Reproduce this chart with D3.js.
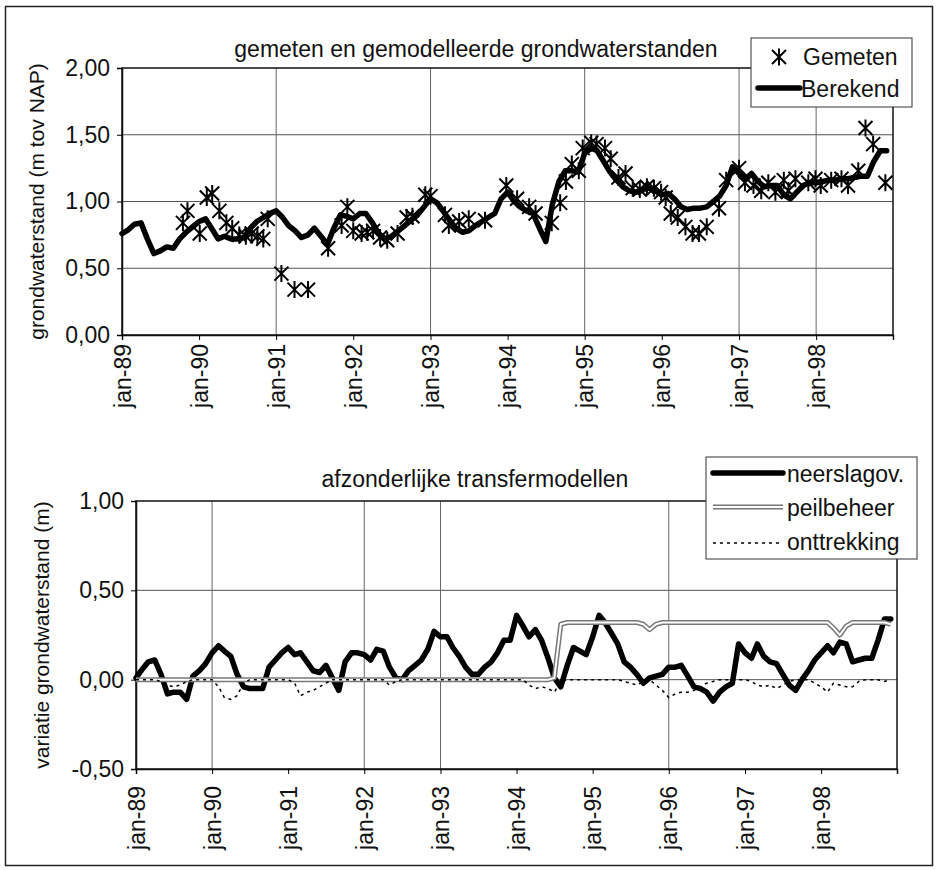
<!DOCTYPE html>
<html>
<head>
<meta charset="utf-8">
<script src="https://cdn.jsdelivr.net/npm/d3@7"></script>
<style>
  body { margin: 0; background: #fff; }
  svg text { font-family: "Liberation Sans", Arial, sans-serif; fill: #111; }
</style>
</head>
<body>
<div class="viz"></div>
<script>
// maandelijkse reeksen, jan-89 t/m dec-98 (index 0..119)
var berekend = [
  0.76,0.79,0.83,0.84,0.72,0.61,0.63,0.66,0.65,0.72,0.77,0.81,
  0.85,0.87,0.80,0.72,0.74,0.72,0.72,0.73,0.80,0.85,0.88,0.91,
  0.93,0.88,0.82,0.78,0.73,0.75,0.80,0.74,0.68,0.80,0.90,0.89,
  0.87,0.91,0.91,0.84,0.76,0.72,0.74,0.78,0.82,0.86,0.90,0.96,
  1.02,0.99,0.93,0.86,0.80,0.77,0.78,0.82,0.85,0.88,0.91,1.02,
  1.07,1.00,0.96,0.93,0.91,0.80,0.70,0.98,1.15,1.23,1.23,1.22,
  1.36,1.40,1.38,1.30,1.22,1.16,1.11,1.08,1.07,1.09,1.10,1.08,
  1.05,1.06,1.02,0.96,0.94,0.95,0.95,0.96,1.00,1.04,1.12,1.26,
  1.21,1.17,1.21,1.15,1.11,1.12,1.12,1.05,1.02,1.07,1.12,1.14,
  1.14,1.15,1.16,1.16,1.17,1.17,1.18,1.19,1.19,1.30,1.38,1.38
];

// metingen: tijdstip in maanden sinds jan-89, waarde in m NAP
var gemetenMaand = [
  9.5,10.2,12.1,13.2,14.1,15.2,16.3,17.2,18.3,19.3,20.2,21.1,22.0,22.7,
  24.8,26.9,29.0,32.1,34.2,35.1,36.0,37.3,38.2,39.1,40.2,41.3,42.9,44.3,45.2,
  47.2,48.0,50.3,50.9,52.5,54.0,56.5,59.8,61.5,63.4,64.4,66.9,68.2,69.1,70.0,
  71.1,71.7,73.0,73.9,75.2,76.1,77.3,78.4,79.5,80.6,81.7,82.8,83.9,84.6,85.4,
  86.5,87.7,88.8,89.8,91.0,92.9,94.0,96.0,96.9,98.3,99.5,100.6,101.7,103.0,
  103.7,104.8,106.8,107.9,108.7,110.4,112.0,113.0,114.6,115.7,116.9,118.8
];
var gemetenWaarde = [
  0.84,0.93,0.76,1.03,1.06,0.93,0.84,0.80,0.75,0.74,0.76,0.74,0.72,0.87,
  0.46,0.34,0.34,0.65,0.82,0.96,0.78,0.76,0.77,0.78,0.73,0.71,0.76,0.88,0.89,
  1.05,1.04,0.90,0.82,0.85,0.87,0.86,1.12,1.02,0.96,0.91,0.84,0.99,1.15,1.28,
  1.23,1.40,1.44,1.43,1.40,1.32,1.18,1.21,1.10,1.09,1.11,1.10,1.07,1.03,0.91,
  0.88,0.81,0.76,0.76,0.81,0.95,1.16,1.25,1.14,1.12,1.08,1.14,1.07,1.16,
  1.08,1.17,1.14,1.17,1.12,1.16,1.17,1.12,1.23,1.55,1.43,1.14
];

var neerslagov = [
  0.01,0.06,0.10,0.11,0.03,-0.08,-0.07,-0.07,-0.11,0.02,0.05,0.09,
  0.15,0.19,0.16,0.13,0.03,-0.04,-0.05,-0.05,-0.05,0.07,0.11,0.15,
  0.18,0.14,0.15,0.10,0.05,0.04,0.08,0.01,-0.06,0.10,0.15,0.15,
  0.14,0.11,0.17,0.16,0.07,0.01,0.00,0.05,0.08,0.11,0.17,0.27,
  0.24,0.24,0.18,0.13,0.07,0.03,0.03,0.07,0.10,0.15,0.22,0.22,
  0.36,0.30,0.24,0.28,0.22,0.12,0.01,-0.04,0.08,0.18,0.16,0.14,
  0.24,0.36,0.32,0.26,0.20,0.10,0.07,0.03,-0.02,0.01,0.02,0.03,
  0.07,0.07,0.08,0.02,-0.04,-0.05,-0.07,-0.12,-0.07,-0.04,-0.02,0.20,
  0.15,0.12,0.20,0.13,0.10,0.09,0.03,-0.03,-0.06,0.00,0.05,0.11,
  0.15,0.19,0.15,0.21,0.20,0.10,0.11,0.12,0.12,0.22,0.34,0.34
];
var peilbeheer = [
  0,0,0,0,0,0,0,0,0,0,0,0,
  0,0,0,0,0,0,0,0,0,0,0,0,
  0,0,0,0,0,0,0,0,0,0,0,0,
  0,0,0,0,0,0,0,0,0,0,0,0,
  0,0,0,0,0,0,0,0,0,0,0,0,
  0,0,0,0,0,0,0.01,0.31,0.32,0.32,0.32,0.32,
  0.32,0.32,0.32,0.32,0.32,0.32,0.32,0.32,0.31,0.28,0.31,0.32,
  0.32,0.32,0.32,0.32,0.32,0.32,0.32,0.32,0.32,0.32,0.32,0.32,
  0.32,0.32,0.32,0.32,0.32,0.32,0.32,0.32,0.32,0.32,0.32,0.32,
  0.32,0.32,0.29,0.25,0.30,0.32,0.32,0.32,0.32,0.32,0.32,0.31
];
var onttrekking = [
  0,0,0,0,-0.01,-0.03,-0.04,-0.03,-0.01,0,0,0,
  0,-0.04,-0.10,-0.11,-0.09,-0.02,0,0,0,0,0,0,
  0,-0.02,-0.09,-0.07,-0.06,-0.04,-0.02,0,0,0,0,0,
  0,0,0,0,-0.03,-0.01,0,0,0,0,0,0,
  0,0,0,0,0,0,0,0,0,0,0,0,
  0,0,-0.03,-0.05,-0.04,-0.05,-0.07,-0.01,0,0,0,0,
  0,0,0,0,0,-0.01,-0.02,-0.03,-0.01,0,-0.03,-0.06,
  -0.10,-0.08,-0.07,-0.07,-0.06,-0.04,-0.02,-0.01,0,0,0,0,
  0,-0.01,-0.03,-0.04,-0.03,-0.05,-0.03,-0.01,0,0,0,-0.02,
  -0.04,-0.07,-0.02,-0.03,-0.04,-0.04,-0.01,0,0,0,-0.01,0
];

var jaren = [1989,1990,1991,1992,1993,1994,1995,1996,1997,1998];
var xLabels = ["jan-89","jan-90","jan-91","jan-92","jan-93","jan-94","jan-95","jan-96","jan-97","jan-98"];
var yTicksBoven = [0, 0.5, 1, 1.5, 2];
var yTicksOnder = [-0.5, 0, 0.5, 1];
// verticale lijnen zoals zichtbaar in het origineel
var vLijnenBoven = [1991, 1993, 1995, 1997, 1998];
var vLijnenOnder = [1990, 1992, 1993, 1996];

var W = 938, H = 870;
var nl = d3.formatLocale({decimal: ",", thousands: ".", grouping: [3], currency: ["", " €"], minus: "-"});
var fmt = nl.format(".2f");

function maandDatum(m) {
  var i = Math.floor(m);
  var a = new Date(1989, i, 1), b = new Date(1989, i + 1, 1);
  return new Date(+a + (m - i) * (b - a));
}

var svg = d3.select(".viz").append("svg")
  .attr("width", W).attr("height", H);

svg.append("rect")
  .attr("x", 5.5).attr("y", 6.5).attr("width", 927).attr("height", 859)
  .attr("fill", "#fff").attr("stroke", "#222").attr("stroke-width", 1.5);

function paneel(opt) {
  var x = d3.scaleTime()
    .domain([new Date(1989, 0, 1), new Date(1998, 11, 31)])
    .range([opt.left, opt.right]);
  var y = d3.scaleLinear().domain(opt.yDomain).range([opt.bottom, opt.top]);
  var g = svg.append("g");

  // rasterlijnen
  g.selectAll(".hgrid").data(opt.yTicks.slice(1, -1)).enter().append("line")
    .attr("class", "hgrid")
    .attr("x1", opt.left).attr("x2", opt.right)
    .attr("y1", function(d){ return y(d); }).attr("y2", function(d){ return y(d); })
    .attr("stroke", "#555").attr("stroke-width", 1);
  g.selectAll(".vgrid").data(opt.vLijnen).enter().append("line")
    .attr("class", "vgrid")
    .attr("x1", function(d){ return x(new Date(d, 0, 1)); })
    .attr("x2", function(d){ return x(new Date(d, 0, 1)); })
    .attr("y1", opt.top).attr("y2", opt.bottom)
    .attr("stroke", "#666").attr("stroke-width", 1);

  g.append("rect")
    .attr("x", opt.left).attr("y", opt.top)
    .attr("width", opt.right - opt.left).attr("height", opt.bottom - opt.top)
    .attr("fill", "none").attr("stroke", "#111").attr("stroke-width", 1.5);

  var ya = g.append("g").attr("transform", "translate(" + opt.left + ",0)")
    .call(d3.axisLeft(y).tickValues(opt.yTicks).tickSize(5).tickPadding(7).tickFormat(fmt));
  ya.select(".domain").attr("stroke", "#111").attr("stroke-width", 1.5);
  ya.selectAll("text").style("font-size", "23px");

  var xa = g.append("g").attr("transform", "translate(0," + opt.bottom + ")")
    .call(d3.axisBottom(x).tickValues(jaren.map(function(j){ return new Date(j, 0, 1); }))
      .tickSize(5).tickFormat(function(d, i){ return xLabels[i]; }));
  xa.select(".domain").attr("stroke", "#111").attr("stroke-width", 1.5);
  xa.selectAll("text")
    .style("font-size", "23px")
    .attr("transform", "rotate(-90)")
    .attr("text-anchor", "end")
    .attr("x", -opt.labelGap).attr("y", 0).attr("dy", "0.35em");

  svg.append("text")
    .attr("x", opt.titleX).attr("y", opt.titleY)
    .attr("text-anchor", "middle").style("font-size", "23px")
    .text(opt.title);

  svg.append("text")
    .attr("transform", "translate(" + opt.yLabelX + "," + ((opt.top + opt.bottom) / 2) + ") rotate(-90)")
    .attr("text-anchor", "middle").style("font-size", "21px")
    .text(opt.yLabel);

  return {x: x, y: y, g: g};
}

// ---------- bovenste grafiek ----------
var boven = paneel({
  left: 122, right: 893, top: 68, bottom: 335,
  yDomain: [0, 2], yTicks: yTicksBoven, vLijnen: vLijnenBoven,
  labelGap: 9, title: "gemeten en gemodelleerde grondwaterstanden",
  titleX: 476, titleY: 57, yLabel: "grondwaterstand (m tov NAP)", yLabelX: 44
});

var lijnBoven = d3.line()
  .x(function(d, i){ return boven.x(new Date(1989, i, 1)); })
  .y(function(d){ return boven.y(d); });

boven.g.append("path").datum(berekend)
  .attr("d", lijnBoven).attr("fill", "none")
  .attr("stroke", "#000").attr("stroke-width", 5.5)
  .attr("stroke-linejoin", "round").attr("stroke-linecap", "round");

var ster = "M-7,-7L7,7M-7,7L7,-7M0,-8.5L0,8.5";
boven.g.selectAll(".ster").data(gemetenMaand).enter().append("path")
  .attr("d", ster)
  .attr("transform", function(d, i){
    return "translate(" + boven.x(maandDatum(d)) + "," + boven.y(gemetenWaarde[i]) + ")";
  })
  .attr("fill", "none").attr("stroke", "#000").attr("stroke-width", 2);

var lg1 = svg.append("g");
lg1.append("rect").attr("x", 751).attr("y", 38).attr("width", 161).attr("height", 69)
  .attr("fill", "#fff").attr("stroke", "#333").attr("stroke-width", 1);
lg1.append("path").attr("d", ster).attr("transform", "translate(779,57)")
  .attr("fill", "none").attr("stroke", "#000").attr("stroke-width", 2);
lg1.append("text").attr("x", 803).attr("y", 65).style("font-size", "23px").text("Gemeten");
lg1.append("line").attr("x1", 758).attr("x2", 800).attr("y1", 88).attr("y2", 88)
  .attr("stroke", "#000").attr("stroke-width", 5.5).attr("stroke-linecap", "round");
lg1.append("text").attr("x", 801).attr("y", 97).style("font-size", "23px").text("Berekend");

// ---------- onderste grafiek ----------
var onder = paneel({
  left: 136, right: 897, top: 501, bottom: 769,
  yDomain: [-0.5, 1], yTicks: yTicksOnder, vLijnen: vLijnenOnder,
  labelGap: 17, title: "afzonderlijke transfermodellen",
  titleX: 475, titleY: 487, yLabel: "variatie grondwaterstand (m)", yLabelX: 49
});

var lijnOnder = d3.line()
  .x(function(d, i){ return onder.x(new Date(1989, i, 1)); })
  .y(function(d){ return onder.y(d); });

onder.g.append("path").datum(neerslagov)
  .attr("d", lijnOnder).attr("fill", "none")
  .attr("stroke", "#000").attr("stroke-width", 5.5)
  .attr("stroke-linejoin", "round").attr("stroke-linecap", "round");
onder.g.append("path").datum(peilbeheer)
  .attr("d", lijnOnder).attr("fill", "none")
  .attr("stroke", "#777").attr("stroke-width", 5).attr("stroke-linejoin", "round");
onder.g.append("path").datum(peilbeheer)
  .attr("d", lijnOnder).attr("fill", "none")
  .attr("stroke", "#fff").attr("stroke-width", 2).attr("stroke-linejoin", "round");
onder.g.append("path").datum(onttrekking)
  .attr("d", lijnOnder).attr("fill", "none")
  .attr("stroke", "#000").attr("stroke-width", 1.5).attr("stroke-dasharray", "3,4");

var lg2 = svg.append("g");
lg2.append("rect").attr("x", 706).attr("y", 457).attr("width", 211).attr("height", 102)
  .attr("fill", "#fff").attr("stroke", "#333").attr("stroke-width", 1);
lg2.append("line").attr("x1", 713).attr("x2", 783).attr("y1", 473).attr("y2", 473)
  .attr("stroke", "#000").attr("stroke-width", 5.5).attr("stroke-linecap", "round");
lg2.append("text").attr("x", 787).attr("y", 482).style("font-size", "23px").text("neerslagov.");
lg2.append("line").attr("x1", 713).attr("x2", 783).attr("y1", 507).attr("y2", 507)
  .attr("stroke", "#777").attr("stroke-width", 5);
lg2.append("line").attr("x1", 713).attr("x2", 783).attr("y1", 507).attr("y2", 507)
  .attr("stroke", "#fff").attr("stroke-width", 2);
lg2.append("text").attr("x", 787).attr("y", 516).style("font-size", "23px").text("peilbeheer");
lg2.append("line").attr("x1", 713).attr("x2", 783).attr("y1", 543).attr("y2", 543)
  .attr("stroke", "#000").attr("stroke-width", 1.5).attr("stroke-dasharray", "3,4");
lg2.append("text").attr("x", 787).attr("y", 550).style("font-size", "23px").text("onttrekking");
</script>
</body>
</html>
